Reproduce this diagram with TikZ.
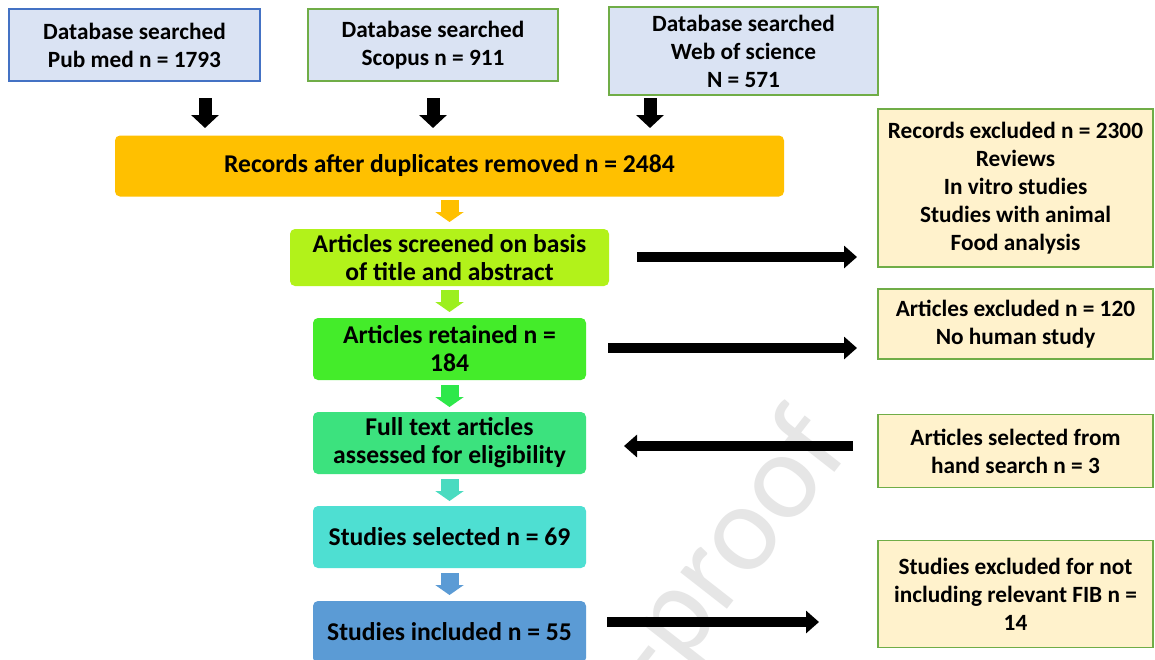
\documentclass[tikz,border=0pt]{standalone}
\usepackage{fontspec}
\setmainfont{Carlito}
\usetikzlibrary{arrows.meta}
\definecolor{topfill}{HTML}{DAE3F3}
\definecolor{blueborder}{HTML}{4472C4}
\definecolor{greenborder}{HTML}{70AD47}
\definecolor{sidefill}{HTML}{FFF2CC}
\definecolor{orangec}{HTML}{FFC000}
\definecolor{limec}{HTML}{B2F21A}
\definecolor{limearrow}{HTML}{9CEF1F}
\definecolor{greenc}{HTML}{44EC2A}
\definecolor{greenarrow}{HTML}{2EE84A}
\definecolor{springc}{HTML}{3CE27E}
\definecolor{springarrow}{HTML}{4ADBC0}
\definecolor{tealc}{HTML}{4EDFD2}
\definecolor{bluec}{HTML}{5B9BD5}
\definecolor{wmgray}{HTML}{E6E6E6}
\newcommand\sidefnt{\fontsize{23.3}{28}\selectfont\bfseries}
\newcommand\midfnt{\fontsize{25.6}{28}\selectfont\bfseries}
\tikzset{
  topbox/.style={draw=greenborder, fill=topfill, line width=1.4pt, align=center, font=\sidefnt, inner sep=0pt},
  sidebox/.style={draw=greenborder, fill=sidefill, line width=1.4pt, align=center, font=\sidefnt, inner sep=0pt, minimum width=275pt},
  midbox/.style={rounded corners=5pt, align=center, font=\midfnt, inner sep=0pt, minimum width=273pt, minimum height=62pt},
  blackdown/.style={line width=13pt, -{Triangle[width=27pt,length=13pt]}},
  blackside/.style={line width=10pt, -{Triangle[width=22pt,length=13pt]}},
  smalldown/.style={line width=18pt, -{Triangle[width=28pt,length=10pt]}},
}
\begin{document}
\begin{tikzpicture}[x=1pt,y=-1pt]
\useasboundingbox (0,0) rectangle (1155,659);
\clip (0,0) rectangle (1155,659);
\fill[white] (0,0) rectangle (1155,659);
% watermark
\node[font=\fontsize{124}{124}\selectfont, text=wmgray, rotate=52, anchor=base east, inner sep=0pt] (wm) at (852,450) {Journal Pre-proof};
% top boxes
\node[topbox, draw=blueborder, minimum width=251pt, minimum height=72pt] (b1) at (134.5,45) {Database searched\\Pub med n = 1793};
\node[topbox, minimum width=250pt, minimum height=72pt] (b2) at (433,45) {Database searched\\Scopus n = 911};
\node[topbox, minimum width=269pt, minimum height=88pt] (b3) at (743.5,51) {Database searched\\Web of science\\N = 571};
% central chain
\node[midbox, fill=orangec, minimum width=669pt, minimum height=61pt] (rec) at (449.5,166) {Records after duplicates removed n = 2484};
\node[midbox, fill=limec, minimum width=319pt, minimum height=57pt] (scr) at (449.5,257.5) {Articles screened on basis\\of title and abstract};
\node[midbox, fill=greenc] (ret) at (449.5,349) {Articles retained n =\\184};
\node[midbox, fill=springc] (full) at (449.5,443) {Full text articles\\assessed for eligibility};
\node[midbox, fill=tealc] (sel) at (449.5,537) {Studies selected n = 69};
\node[midbox, fill=bluec] (inc) at (449.5,632) {Studies included n = 55};
% side boxes
\node[sidebox, minimum height=158pt] (r1) at (1015.5,188) {Records excluded n = 2300\\Reviews\\In vitro studies\\Studies with animal\\Food analysis};
\node[sidebox, minimum height=70pt] (r2) at (1015.5,324) {Articles excluded n = 120\\No human study};
\node[sidebox, minimum height=73pt] (r3) at (1015.5,451) {Articles selected from\\hand search n = 3};
\node[sidebox, minimum height=107pt] (r4) at (1015.5,594) {Studies excluded for not\\including relevant FIB n =\\14};
% connector end points
\coordinate (d1s) at (205,98);  \coordinate (d1e) at (205,128);
\coordinate (d2s) at (433,98);  \coordinate (d2e) at (433,128);
\coordinate (d3s) at (650,98);  \coordinate (d3e) at (650,128);
\coordinate (s1s) at (449.5,200); \coordinate (s1e) at (449.5,222);
\coordinate (s2s) at (449.5,290); \coordinate (s2e) at (449.5,312);
\coordinate (s3s) at (449.5,385); \coordinate (s3e) at (449.5,407);
\coordinate (s4s) at (449.5,479); \coordinate (s4e) at (449.5,501);
\coordinate (s5s) at (449.5,573); \coordinate (s5e) at (449.5,595);
\coordinate (h1s) at (637,257); \coordinate (h1e) at (857,257);
\coordinate (h2s) at (608,348); \coordinate (h2e) at (857,348);
\coordinate (h3s) at (853,446); \coordinate (h3e) at (624,446);
\coordinate (h4s) at (607,622); \coordinate (h4e) at (819,622);
% connectors
\draw[blackdown] (d1s) -- (d1e);
\draw[blackdown] (d2s) -- (d2e);
\draw[blackdown] (d3s) -- (d3e);
\draw[smalldown, orangec] (s1s) -- (s1e);
\draw[smalldown, limearrow] (s2s) -- (s2e);
\draw[smalldown, greenarrow] (s3s) -- (s3e);
\draw[smalldown, springarrow] (s4s) -- (s4e);
\draw[smalldown, bluec] (s5s) -- (s5e);
\draw[blackside] (h1s) -- (h1e);
\draw[blackside] (h2s) -- (h2e);
\draw[blackside] (h3s) -- (h3e);
\draw[blackside] (h4s) -- (h4e);
\end{tikzpicture}
\end{document}
